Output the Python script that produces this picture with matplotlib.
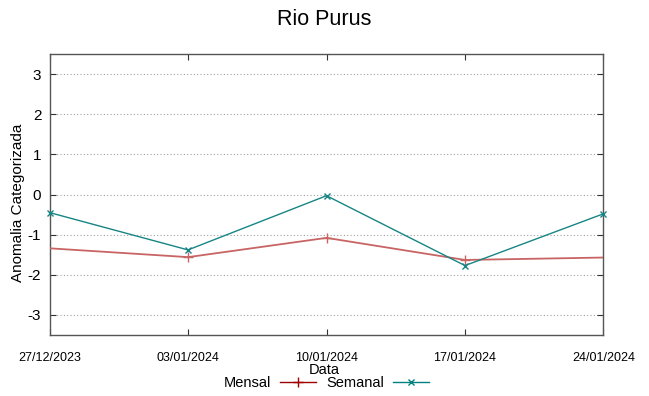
import matplotlib
matplotlib.use("Agg")
import matplotlib.pyplot as plt
from matplotlib.lines import Line2D
import numpy as np

plt.rcParams['font.family'] = ['Liberation Sans', 'DejaVu Sans']

dates = ["27/12/2023", "03/01/2024", "10/01/2024", "17/01/2024", "24/01/2024"]
mensal = [-1.34, -1.56, -1.08, -1.63, -1.57]
semanal = [-0.45, -1.38, -0.03, -1.77, -0.48]
yticks = [-3, -2, -1, 0, 1, 2, 3]

fig = plt.figure(figsize=(6.49, 3.96), dpi=100)
ax = fig.add_axes([0.0764, 0.154, 0.8534, 0.7096])

x = np.arange(len(dates))
ax.plot(x, mensal, color='#c86464', lw=1.3, marker='+', markersize=7,
        markeredgewidth=1.0, markevery=[1, 2, 3], clip_on=True, zorder=3)
ax.plot(x, semanal, color='#178585', lw=1.0, marker='x', markersize=5,
        markeredgewidth=1.0, clip_on=False, zorder=4)

ax.set_xlim(0, len(dates) - 1)
ax.set_ylim(-3.5, 3.5)
ax.set_xticks(x)
ax.set_xticklabels(dates, fontsize=9)
ax.set_yticks(yticks)
ax.set_yticklabels([str(v) for v in yticks], fontsize=11)

for t in ax.get_xticklabels():
    t.set_transform(t.get_transform() + matplotlib.transforms.ScaledTranslation(0.07, 0, fig.dpi_scale_trans))

ax.tick_params(axis='both', direction='in', top=True, right=True, length=4,
               width=0.8, color='#333333')
ax.tick_params(axis='x', pad=12)
ax.tick_params(axis='y', pad=6)

ax.yaxis.grid(True, linestyle=(0, (1, 2)), color='#a0a0a0', lw=0.8)
ax.xaxis.grid(False)
for s in ax.spines.values():
    s.set_color('#555555')
    s.set_linewidth(1.0)

fig.text(0.5, 0.952, "Rio Purus", ha='center', va='center', fontsize=15.5)
fig.text(18 / 649, 1 - 203 / 396, "Anomalia Categorizada", rotation=90,
         ha='center', va='center', fontsize=11)
fig.text(0.5, 0.066, "Data", ha='center', va='center', fontsize=10.5)

h1 = Line2D([], [], color='#a00000', lw=1.0, marker='+', markersize=7, markeredgewidth=1.0)
h2 = Line2D([], [], color='#008080', lw=1.0, marker='x', markersize=5, markeredgewidth=1.0)
fig.legend([h1, h2], ["Mensal", "Semanal"], ncol=2, markerfirst=False, frameon=False,
           loc='center', bbox_to_anchor=(0.503, 0.033), fontsize=10.5,
           handlelength=2.5, handletextpad=0.6, columnspacing=0.7,
           borderpad=0, borderaxespad=0)

fig.savefig("out.png", dpi=100)
